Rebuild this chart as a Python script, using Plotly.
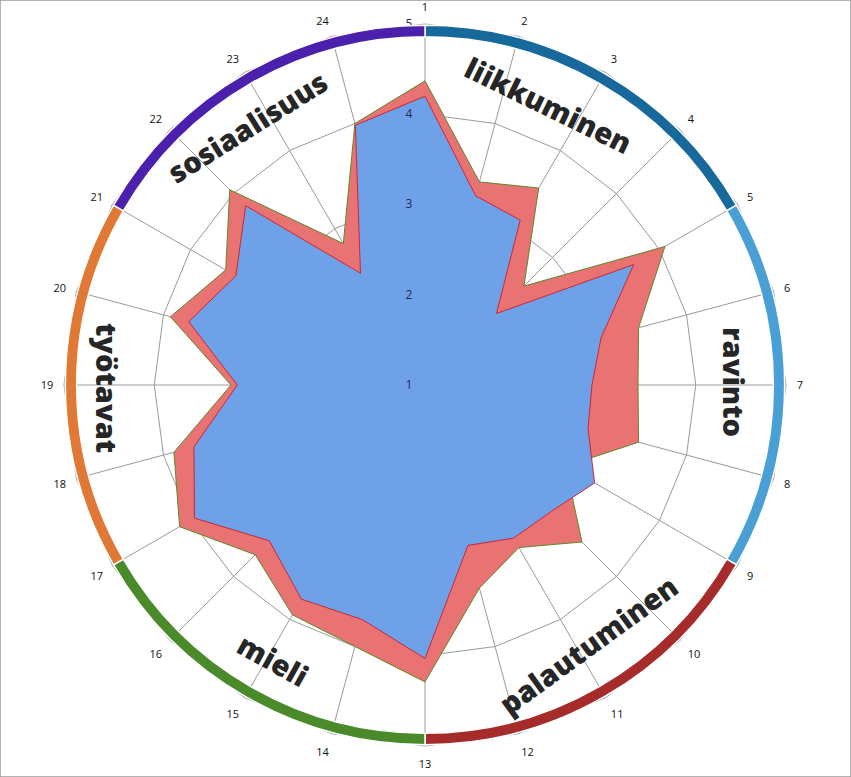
import plotly.graph_objects as go

categories = [str(i) for i in range(1, 25)]
series_outer = [4.37, 3.33, 3.52, 2.55, 4.07, 3.45, 3.36, 3.45, 2.80, 3.46, 3.08, 3.33,
                4.29, 4.00, 3.94, 3.66, 4.14, 3.88, 3.15, 3.92, 3.55, 4.06, 2.81, 4.00]
series_inner = [4.20, 3.17, 3.11, 2.12, 3.67, 3.02, 2.85, 2.87, 3.17, 2.98, 2.96, 2.84,
                4.03, 3.69, 3.74, 3.44, 3.95, 3.65, 3.08, 3.71, 3.42, 3.81, 2.43, 3.98]
radial_ticks = [1, 2, 3, 4, 5]

group_names = ["liikkuminen", "ravinto", "palautuminen", "mieli", "työtavat", "sosiaalisuus"]
group_start = ["1", "5", "9", "13", "17", "21"]
group_colors = ["#17689b", "#4a9fd5", "#a62b2b", "#4a8a2b", "#e07935", "#4b20ad"]

fig = go.Figure()

fig.add_trace(go.Scatterpolar(
    r=series_outer + series_outer[:1], theta=categories + categories[:1],
    mode="lines", fill="toself", fillcolor="#e97272",
    line=dict(color="#5a8a2a", width=1), hoverinfo="skip", subplot="polar"))
fig.add_trace(go.Scatterpolar(
    r=series_inner + series_inner[:1], theta=categories + categories[:1],
    mode="lines", fill="toself", fillcolor="#6fa1e8",
    line=dict(color="#c8283a", width=1), hoverinfo="skip", subplot="polar"))

n = len(categories)
step = 360.0 / n
band_theta = [(categories.index(s) * step + 2 * step) for s in group_start]
fig.add_trace(go.Barpolar(
    r=[0.125] * len(group_names), base=[4.86] * len(group_names),
    theta=band_theta, width=[4 * step] * len(group_names),
    marker=dict(color=group_colors, line=dict(color="white", width=1.5)),
    hoverinfo="skip", subplot="polar2", showlegend=False))

dom_x = [64 / 851, 786 / 851]
dom_y = [1 - 746 / 777, 1 - 24 / 777]

fig.update_layout(
    width=851, height=777, margin=dict(l=0, r=0, t=0, b=0),
    paper_bgcolor="white", showlegend=False,
    polar=dict(
        domain=dict(x=dom_x, y=dom_y), bgcolor="white", gridshape="linear",
        radialaxis=dict(range=[1, 5], tickvals=radial_ticks, angle=90, tickangle=90,
                        side="counterclockwise", showline=False, ticks="outside",
                        ticklen=8, tickcolor="rgba(0,0,0,0)",
                        gridcolor="#9a9a9a", gridwidth=1,
                        tickfont=dict(family="Open Sans", size=12, color="#1f2d55")),
        angularaxis=dict(type="category", categoryarray=categories, direction="clockwise",
                         rotation=90, showline=True, linecolor="#9a9a9a", linewidth=1,
                         gridcolor="#9a9a9a", gridwidth=1, ticks="outside", ticklen=8,
                         tickcolor="rgba(0,0,0,0)",
                         tickfont=dict(family="Open Sans", size=11, color="#111111")),
    ),
    polar2=dict(
        domain=dict(x=dom_x, y=dom_y), bgcolor="rgba(0,0,0,0)",
        radialaxis=dict(range=[1, 5], visible=False),
        angularaxis=dict(direction="clockwise", rotation=90, visible=False),
    ),
)

labels = [("liikkuminen", 548, 105, 26), ("ravinto", 735, 382, 90),
          ("palautuminen", 588, 644, -36), ("mieli", 273, 659, 29),
          ("työtavat", 108, 388, 90), ("sosiaalisuus", 247, 126, -32)]
for text, px, py, ang in labels:
    fig.add_annotation(x=px / 851, y=1 - py / 777, xref="paper", yref="paper",
                       xanchor="center", yanchor="middle",
                       text=text, showarrow=False, textangle=ang,
                       font=dict(family="Open Sans", size=29, color="#262626", weight=800))

fig.add_shape(type="rect", xref="paper", yref="paper", x0=0, y0=0, x1=1, y1=1,
              line=dict(color="#9a9a9a", width=1.5))

fig.write_html("out.html", config={"displayModeBar": False},
               post_script="document.body.style.margin='0';document.body.style.padding='0';")
